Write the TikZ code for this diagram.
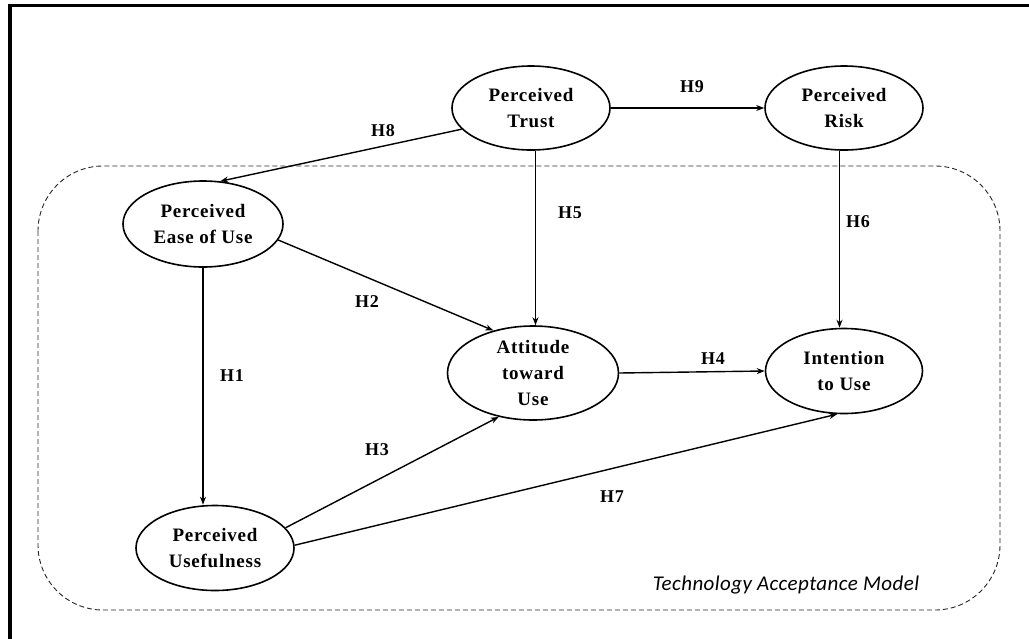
\documentclass[tikz,border=0pt]{standalone}
\usepackage{fontspec}
\usetikzlibrary{shapes.geometric,arrows.meta}
\newfontfamily\nodefont[LetterSpace=4]{Liberation Serif}
\newfontfamily\tamfont[LetterSpace=2]{Carlito}
\tikzset{
  construct/.style={ellipse, draw, line width=1.6pt, inner sep=0pt,
    align=center, font=\nodefont\bfseries\fontsize{19}{26}\selectfont},
  hyp/.style={font=\nodefont\bfseries\fontsize{18}{20}\selectfont, inner sep=0pt},
  link/.style={line width=1.4pt, -{Stealth[length=8pt,width=6pt]}},
  tam/.style={dashed, dash pattern=on 5pt off 3pt, line width=0.9pt, draw=black!85, rounded corners=65pt}
}
\begin{document}
\begin{tikzpicture}[x=1pt,y=-1pt]
\useasboundingbox (0,0) rectangle (1029,638);
% outer frame (only top and left edges visible)
\draw[line width=3.8pt] (10,640) -- (10,5.5) -- (1031,5.5);
% TAM region
\draw[tam] (38,166) rectangle (1000,610);
\node[font=\tamfont\itshape\fontsize{21}{23}\selectfont, inner sep=0pt] (tamlabel) at (786,585) {Technology Acceptance Model};
% constructs
\node[construct, minimum width=158pt, minimum height=84pt] (trust) at (531,108) {Perceived\\Trust};
\node[construct, minimum width=158pt, minimum height=84pt] (risk) at (844,108) {Perceived\\Risk};
\node[construct, minimum width=160pt, minimum height=86pt] (ease) at (203,224) {Perceived\\Ease of Use};
\node[construct, minimum width=171pt, minimum height=94pt] (att) at (533,373) {Attitude\\toward\\Use};
\node[construct, minimum width=157pt, minimum height=85pt] (int) at (844,371) {Intention\\to Use};
\node[construct, minimum width=158pt, minimum height=85pt] (use) at (215,548) {Perceived\\Usefulness};
% hypotheses
\draw[link] (trust.east) -- (risk.west);
\draw[link] (trust.197) -- (ease.68);
\draw[link] (trust.-84) -- (trust.-84 |- att.north);
\draw[link] (risk.-96) -- (risk.-96 |- int.north);
\draw[link] (ease.-12) -- (att.133);
\draw[link] (ease.south) -- (ease.south |- use.north);
\draw[link] (use.16) -- (att.232);
\draw[link] (use.2) -- (int.261);
\draw[link] (att.east) -- (int.west);
% labels
\node[hyp] (h9) at (692,87) {H9};
\node[hyp] (h8) at (383,131) {H8};
\node[hyp] (h5) at (570,213) {H5};
\node[hyp] (h6) at (858,222) {H6};
\node[hyp] (h2) at (367,302) {H2};
\node[hyp] (h1) at (232,376) {H1};
\node[hyp] (h3) at (377,450) {H3};
\node[hyp] (h4) at (713,359) {H4};
\node[hyp] (h7) at (612,497) {H7};
\end{tikzpicture}
\end{document}
